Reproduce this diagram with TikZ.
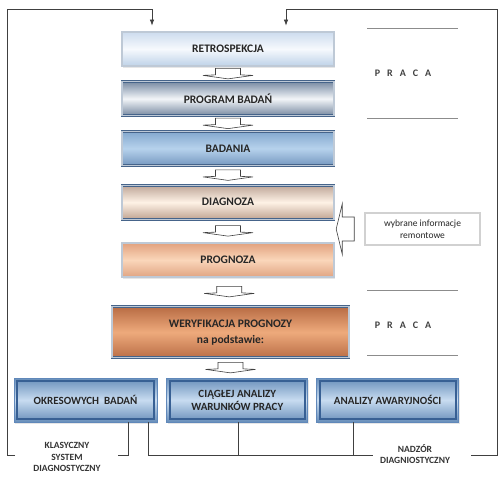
\documentclass[tikz,border=0pt]{standalone}
\usepackage{fontspec}
\setmainfont{Carlito}
\usetikzlibrary{positioning,calc,shadows,arrows.meta}

\definecolor{frameblue}{RGB}{70,100,138}
\definecolor{darkblue}{RGB}{56,96,148}
\definecolor{edgeblue}{RGB}{96,136,186}
\definecolor{linegray}{RGB}{64,64,64}
\definecolor{sepgray}{RGB}{140,140,140}
\definecolor{blue1}{RGB}{104,142,186}
\definecolor{blue2}{RGB}{200,220,240}
\definecolor{retroA}{RGB}{205,220,238}
\definecolor{retroB}{RGB}{246,249,253}
\definecolor{retroC}{RGB}{190,210,232}
\definecolor{progA}{RGB}{122,140,164}
\definecolor{progB}{RGB}{242,245,248}
\definecolor{progC}{RGB}{118,136,160}
\definecolor{badA}{RGB}{132,168,206}
\definecolor{badB}{RGB}{182,210,236}
\definecolor{badC}{RGB}{118,152,192}
\definecolor{diagA}{RGB}{190,166,152}
\definecolor{diagB}{RGB}{254,242,230}
\definecolor{diagC}{RGB}{192,164,146}
\definecolor{prognA}{RGB}{226,162,126}
\definecolor{prognB}{RGB}{250,214,186}
\definecolor{prognC}{RGB}{224,164,130}
\definecolor{weryfA}{RGB}{184,108,68}
\definecolor{weryfB}{RGB}{238,170,124}
\definecolor{weryfC}{RGB}{186,110,70}

\begin{document}
\begin{tikzpicture}[x=1pt, y=-1pt,
  node distance=15pt,
  shade3/.style={top color=#1A, bottom color=#1C, middle color=#1B},
  box/.style={rectangle, draw=frameblue, double=white!65!frameblue, double distance=1.1pt, line width=0.75pt,
    minimum width=212pt, minimum height=34pt, inner sep=2pt, align=center, text=black!85,
    font=\bfseries\fontsize{11.5}{16}\selectfont,
    drop shadow={opacity=0.2, shadow xshift=1pt, shadow yshift=-1.5pt}},
  lowbox/.style={rectangle, draw=edgeblue, line width=0.8pt,
    minimum height=44pt, inner sep=2pt, align=center, text=black!85,
    font=\bfseries\fontsize{11}{13}\selectfont,
    top color=blue1, bottom color=blue1, middle color=blue2,
    drop shadow={opacity=0.2, shadow xshift=1pt, shadow yshift=-1.5pt},
    path picture={\draw[darkblue, line width=2.2pt]
      ([shift={(3pt,-3pt)}]path picture bounding box.north west) rectangle
      ([shift={(-3pt,3pt)}]path picture bounding box.south east);}},
  infobox/.style={rectangle, draw=black!18, line width=1.6pt, fill=white, minimum width=115pt,
    minimum height=32pt, align=center, font=\fontsize{9.5}{11.5}\selectfont, text=black!85},
  label/.style={align=center, font=\bfseries\fontsize{9.5}{11.5}\selectfont, text=black!80},
  praca/.style={font=\bfseries\fontsize{10}{11}\selectfont, text=black!75},
  line/.style={draw=linegray, line width=0.7pt},
  arr/.style={line, -{Latex[length=6pt, width=4.5pt]}, shorten >=6pt},
  sep/.style={draw=sepgray, line width=0.9pt},
  blk/.style={draw=linegray, line width=0.6pt, fill=white},
  darr/.pic={\draw[blk] (-12.5,-5.5) -- (12.5,-5.5) -- (12.5,1) -- (25,1.5) -- (0,5) -- (-25,1.5) -- (-12.5,1) -- cycle;},
  larr/.pic={\draw[blk] (0,-12) -- (-12,-12) -- (-12,-25) -- (-18,0) -- (-12,25) -- (-12,12) -- (0,12) -- cycle;}
]
\useasboundingbox (0,0) rectangle (502,479);

% main column
\node[box, shade3=retro] (retro) at (228,49) {RETROSPEKCJA};
\node[box, below=15pt of retro, shade3=prog] (prog) {PROGRAM BADAŃ};
\node[box, below=15pt of prog, shade3=bad] (bad) {BADANIA};
\node[box, below=19pt of bad, shade3=diag] (diag) {DIAGNOZA};
\node[box, below=23pt of diag, shade3=progn] (progn) {PROGNOZA};
\node[box, below=29pt of progn, xshift=2.5pt, minimum width=237pt, minimum height=51pt, shade3=weryf] (weryf) {WERYFIKACJA PROGNOZY\\na podstawie:};

% bottom row
\node[lowbox, minimum width=143pt] (okres) at (85.5,400) {OKRESOWYCH~~BADAŃ};
\node[lowbox, minimum width=141pt, right=9pt of okres] (ciag) {CIĄGŁEJ ANALIZY\\WARUNKÓW PRACY};
\node[lowbox, minimum width=142pt, right=8pt of ciag] (anal) {ANALIZY AWARYJNOŚCI};

% block arrows
\pic at ($(retro.south)!0.5!(prog.north)$) {darr};
\pic at ($(prog.south)!0.5!(bad.north)$) {darr};
\pic at ($(bad.south)!0.5!(diag.north)$) {darr};
\pic at ($(diag.south)!0.5!(progn.north)$) {darr};
\pic at ($(progn.south)!0.5!(weryf.north)$) {darr};
\pic at ($(weryf.south)!0.5!(weryf.south |- ciag.north)$) {darr};

% right side
\node[praca] (praca1) at (403,73) {P\hspace{7pt}R\hspace{7pt}A\hspace{7pt}C\hspace{7pt}A};
\node[praca] (praca2) at (403,325) {P\hspace{7pt}R\hspace{7pt}A\hspace{7pt}C\hspace{7pt}A};
\draw[sep] ([xshift=-36pt, yshift=45pt]praca1.center) -- ++(91,0);
\draw[sep] ([xshift=-36pt, yshift=-45pt]praca1.center) -- ++(91,0);
\draw[sep] ([xshift=-36pt, yshift=35pt]praca2.center) -- ++(91,0);
\draw[sep] ([xshift=-36pt, yshift=-30pt]praca2.center) -- ++(91,0);
\node[infobox] (info) at (422.5,229) {wybrane informacje\\remontowe};
\pic at ([xshift=-10pt]info.west) {larr};

% labels
\node[label] (klas) at (67,457) {KLASYCZNY\\SYSTEM\\DIAGNOSTYCZNY};
\node[label] (nadz) at (415,454) {NADZÓR\\DIAGNIOSTYCZNY};

% frame
\coordinate (tl) at (7,9);
\coordinate (tr) at (497,9);
\coordinate (bl) at (15,455);
\coordinate (br) at (471,455);
\coordinate (kr) at (118,455);
\coordinate (nl) at (373,455);
\draw[arr] (bl) -| (tl) -| ([xshift=-76pt]retro.north);
\draw[arr] (br) -| (tr) -| ([xshift=58pt]retro.north);
\draw[line] ([xshift=42.5pt]okres.south) |- (kr);
\draw[line] ([xshift=62.5pt]okres.south) |- (nl);
\draw[line] ([xshift=1.5pt]ciag.south) -- ([xshift=1.5pt]ciag.south |- nl);
\draw[line] ([xshift=-34pt]anal.south) -- ([xshift=-34pt]anal.south |- nl);
\end{tikzpicture}
\end{document}
